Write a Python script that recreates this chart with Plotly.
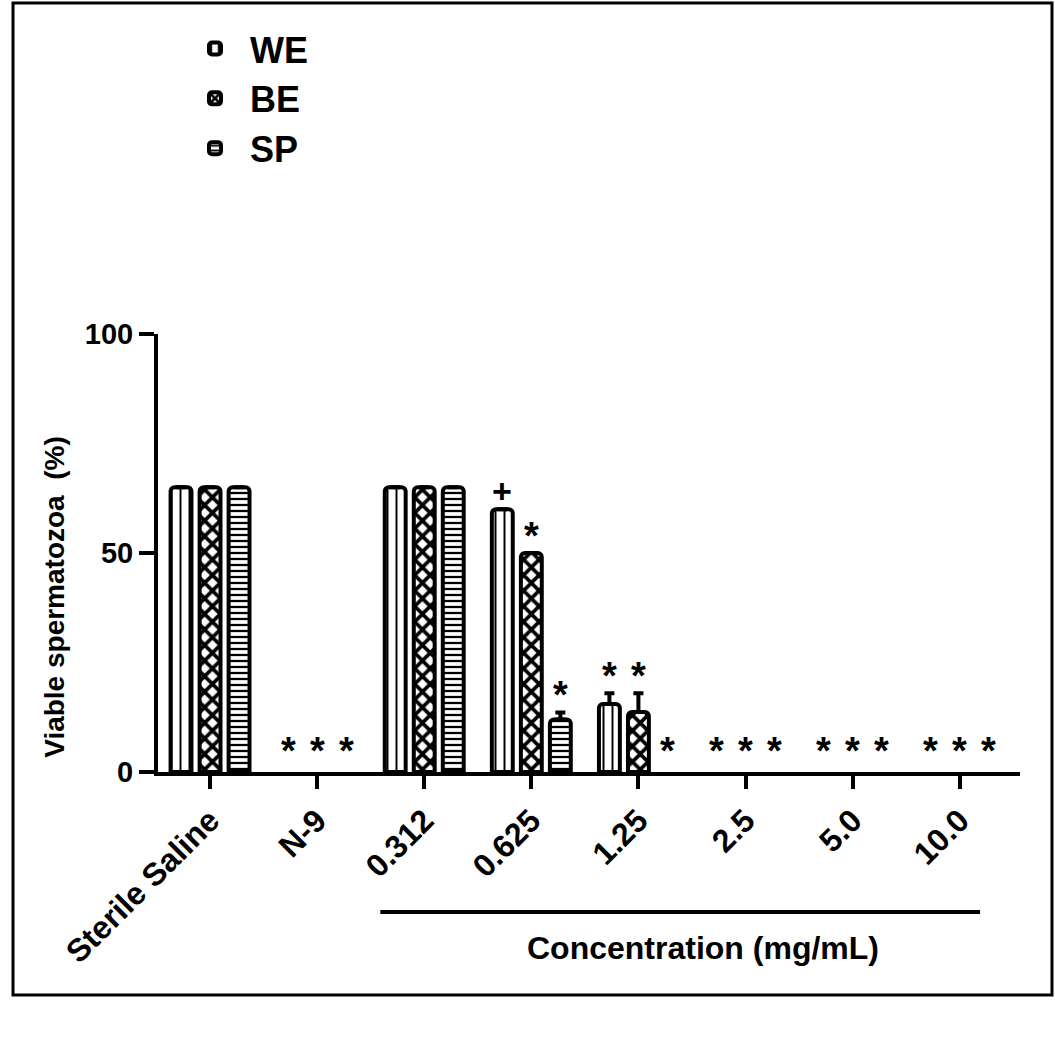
import plotly.graph_objects as go

# ---------------- data ----------------
categories = ["Sterile Saline", "N-9", "0.312", "0.625", "1.25", "2.5", "5.0", "10.0"]
series_names = ["WE", "BE", "SP"]
we_values = [65, 0, 65, 60, 15.5, 0, 0, 0]
be_values = [65, 0, 65, 50, 13.7, 0, 0, 0]
sp_values = [65, 0, 65, 12, 0, 0, 0, 0]
we_err = [None, None, None, None, 2.5, None, None, None]
be_err = [None, None, None, None, 4.3, None, None, None]
sp_err = [None, None, None, 1.6, None, None, None, None]
# significance marks: (category, series index, label)
sig_marks = [
    ("N-9", 0, "*"), ("N-9", 1, "*"), ("N-9", 2, "*"),
    ("0.625", 0, "+"), ("0.625", 1, "*"), ("0.625", 2, "*"),
    ("1.25", 0, "*"), ("1.25", 1, "*"), ("1.25", 2, "*"),
    ("2.5", 0, "*"), ("2.5", 1, "*"), ("2.5", 2, "*"),
    ("5.0", 0, "*"), ("5.0", 1, "*"), ("5.0", 2, "*"),
    ("10.0", 0, "*"), ("10.0", 1, "*"), ("10.0", 2, "*"),
]
y_ticks = [0, 50, 100]
y_title = "Viable spermatozoa  (%)"
x_group_title = "Concentration (mg/mL)"

FONT = "Liberation Sans, Arial, sans-serif"
values = [we_values, be_values, sp_values]
errors = [we_err, be_err, sp_err]
patterns = [
    dict(shape="|", size=9, solidity=0.22, fgcolor="black", bgcolor="white", fillmode="replace"),
    dict(shape="x", size=11, solidity=0.55, fgcolor="black", bgcolor="white", fillmode="replace"),
    dict(shape="-", size=6, solidity=0.38, fgcolor="black", bgcolor="white", fillmode="replace"),
]

fig = go.Figure()
for name, vals, errs, pat in zip(series_names, values, errors, patterns):
    fig.add_trace(go.Bar(
        x=categories,
        # zero viability: no visible bar is drawn in the original
        y=[v if v > 0 else None for v in vals],
        name=name,
        marker=dict(color="white", line=dict(color="black", width=4), pattern=pat),
        error_y=dict(type="data", array=errs, arrayminus=[0] * len(errs), symmetric=False,
                     color="black", thickness=4, width=5),
        hoverinfo="skip",
    ))

# spacing between bar centres inside a group (px), used to place marks over bars
bar_step = 29
annotations = []
for cat, idx, label in sig_marks:
    ci = categories.index(cat)
    top = values[idx][ci] + (errors[idx][ci] or 0)
    annotations.append(dict(
        x=ci, y=top, xref="x", yref="y", text=label, showarrow=False,
        xshift=(idx - 1) * bar_step,
        yshift=(18 if label == "+" else (17 if top > 0 else 21)),
        yanchor="middle", xanchor="center",
        font=dict(family=FONT, size=38 if label == "*" else 34, color="black", weight="bold"),
    ))

annotations.append(dict(
    x=-0.1195, y=0.40, xref="paper", yref="paper", text=y_title, textangle=-90,
    showarrow=False, xanchor="center", yanchor="middle",
    font=dict(family=FONT, size=28, color="black", weight="bold"),
))
annotations.append(dict(
    x=4.6, y=-0.402, xref="x", yref="paper", text=x_group_title,
    showarrow=False, xanchor="center", yanchor="middle",
    font=dict(family=FONT, size=32, color="black", weight="bold"),
))

shapes = [
    dict(type="rect", xref="paper", yref="paper", x0=-0.1682, x1=1.0371, y0=-0.5091, y1=1.7557,
         line=dict(color="black", width=3), fillcolor="rgba(0,0,0,0)", layer="below"),
    dict(type="line", xref="x", yref="paper", x0=1.59, x1=7.19, y0=-0.3196, y1=-0.3196,
         line=dict(color="black", width=4)),
]

fig.update_layout(
    width=1055, height=1040,
    margin=dict(l=158, r=35, t=334, b=268),
    plot_bgcolor="white", paper_bgcolor="white",
    barmode="group", bargap=0.187, bargroupgap=0.28, barcornerradius=4,
    font=dict(family=FONT, color="black"),
    showlegend=True,
    legend=dict(x=0.0255, y=1.72, xanchor="left", yanchor="top", itemwidth=60,
                font=dict(family=FONT, size=36, color="black", weight="bold"),
                bgcolor="rgba(0,0,0,0)", tracegroupgap=0),
    annotations=annotations,
    shapes=shapes,
    xaxis=dict(type="category", range=[-0.486, 7.563], showline=True, linewidth=4, linecolor="black",
               ticks="outside", ticklen=13, tickwidth=4, tickcolor="black", tickangle=-45,
               tickfont=dict(family=FONT, size=32, color="black", weight="bold"),
               showgrid=False, zeroline=False),
    yaxis=dict(range=[0, 100], tickvals=y_ticks, showline=True, linewidth=4, linecolor="black",
               ticks="outside", ticklen=15, tickwidth=4, tickcolor="black",
               tickfont=dict(family=FONT, size=29, color="black", weight="bold"),
               showgrid=False, zeroline=False),
)

fig.write_html("out.html", config={"displayModeBar": False},
               post_script="document.body.style.margin='0';document.body.style.overflow='hidden';")
